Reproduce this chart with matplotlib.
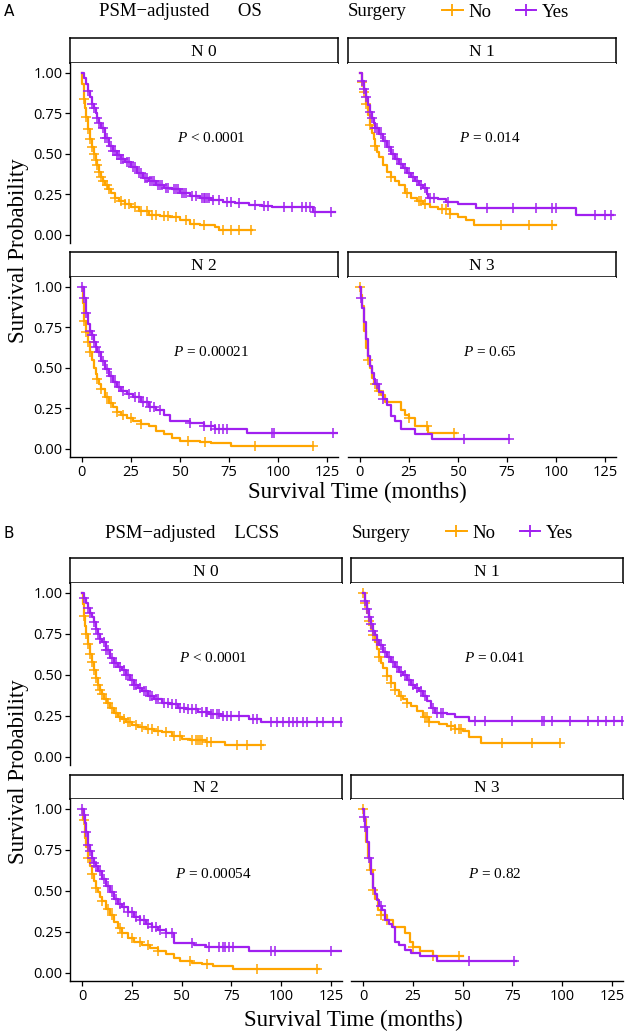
import numpy as np
import matplotlib
matplotlib.use("Agg")
import matplotlib.pyplot as plt
from matplotlib.lines import Line2D

plt.rcParams['mathtext.fontset'] = 'custom'
plt.rcParams['mathtext.it'] = 'Liberation Serif:italic'
plt.rcParams['mathtext.rm'] = 'Liberation Serif'

# ------------------------------------------------------------------ data
groups = ["No", "Yes"]
strip_labels = ["N 0", "N 1", "N 2", "N 3"]
x_ticks = [0, 25, 50, 75, 100, 125]
y_ticks = [0.00, 0.25, 0.50, 0.75, 1.00]
os_pvals = ["< 0.0001", "= 0.014", "= 0.00021", "= 0.65"]
lcss_pvals = ["< 0.0001", "= 0.041", "= 0.00054", "= 0.82"]

# ---- Panel A (OS)
os_n0_no_t = [0, 0.3, 1, 1.5, 2, 3, 4, 5, 6, 7, 8, 9, 10, 11, 12, 13.5, 15, 17, 19, 22, 25, 29, 34, 40, 45, 50, 55, 60, 68, 70, 86.5]
os_n0_no_s = [1.0, 0.93, 0.84, 0.78, 0.73, 0.65, 0.59, 0.54, 0.50, 0.46, 0.43, 0.39, 0.36, 0.33, 0.31, 0.28, 0.26, 0.23, 0.21, 0.19, 0.17, 0.15, 0.12, 0.115, 0.11, 0.09, 0.07, 0.06, 0.05, 0.03, 0.03]
os_n0_no_c = [1, 2, 3, 4, 5, 6, 7, 8, 9, 10, 11, 13, 14, 17, 20, 22, 24, 27, 30, 33, 36, 38, 42, 44, 48, 53, 57, 62, 72, 76, 80, 86]
os_n0_yes_t = [0, 1, 2, 3, 4, 5, 6, 7, 8, 9, 10, 12, 14, 16, 18, 20, 22, 25, 28, 31, 34, 38, 42, 46, 50, 55, 60, 66, 72, 78, 85, 92, 97, 118, 129]
os_n0_yes_s = [1.0, 0.97, 0.93, 0.89, 0.85, 0.81, 0.78, 0.75, 0.72, 0.69, 0.66, 0.60, 0.55, 0.52, 0.49, 0.47, 0.45, 0.42, 0.38, 0.35, 0.33, 0.31, 0.29, 0.28, 0.26, 0.24, 0.23, 0.215, 0.20, 0.195, 0.185, 0.18, 0.17, 0.14, 0.14]
os_n0_yes_c = [3, 5, 6, 8, 9, 11, 12, 13, 15, 16, 17, 18, 19, 20, 21, 23, 24, 26, 27, 29, 30, 32, 33, 35, 36, 37, 39, 40, 41, 43, 44, 47, 48, 49, 51, 52, 53, 56, 58, 61, 62, 63, 64, 65, 67, 70, 74, 76, 80, 88, 93, 95, 103, 107, 112, 114, 116, 119, 127]

os_n1_no_t = [0, 1, 2, 3, 4, 5, 6, 7, 8, 9, 10, 12, 14, 16, 18, 20, 23, 26, 29, 32, 36, 40, 46, 50, 54, 58, 100]
os_n1_no_s = [1.0, 0.94, 0.88, 0.81, 0.74, 0.68, 0.63, 0.59, 0.55, 0.51, 0.48, 0.43, 0.39, 0.36, 0.33, 0.31, 0.26, 0.23, 0.21, 0.19, 0.17, 0.16, 0.13, 0.11, 0.09, 0.06, 0.06]
os_n1_no_c = [1, 2, 3, 5, 8, 16, 24, 30, 31, 33, 42, 44, 46, 72, 86, 98]
os_n1_yes_t = [0, 1, 2, 3, 4, 5, 6, 7, 8, 10, 12, 14, 16, 18, 20, 22, 24, 26, 28, 30, 32, 34, 35, 40, 44, 50, 59, 110, 129]
os_n1_yes_s = [1.0, 0.95, 0.90, 0.85, 0.80, 0.76, 0.72, 0.69, 0.66, 0.62, 0.58, 0.54, 0.50, 0.47, 0.44, 0.41, 0.38, 0.36, 0.33, 0.31, 0.29, 0.25, 0.23, 0.22, 0.20, 0.19, 0.165, 0.12, 0.12]
os_n1_yes_c = [1, 2, 3, 5, 6, 8, 9, 11, 13, 15, 17, 19, 21, 23, 25, 27, 29, 31, 33, 36, 38, 45, 65, 78, 90, 98, 100, 120, 125, 128]

os_n2_no_t = [0, 0.5, 1, 2, 3, 4, 5, 6, 7, 8, 9, 10, 12, 14, 16, 18, 20, 23, 26, 30, 34, 38, 42, 46, 50, 60, 66, 76, 118]
os_n2_no_s = [1.0, 0.90, 0.79, 0.72, 0.66, 0.60, 0.55, 0.50, 0.46, 0.43, 0.40, 0.37, 0.32, 0.285, 0.26, 0.23, 0.21, 0.19, 0.17, 0.155, 0.14, 0.11, 0.09, 0.07, 0.05, 0.045, 0.035, 0.02, 0.02]
os_n2_no_c = [1, 2, 3, 4, 8, 10, 13, 15, 18, 21, 25, 30, 54, 63, 88, 118]
os_n2_yes_t = [0, 1, 2, 3, 4, 5, 6, 7, 8, 10, 12, 14, 16, 18, 20, 23, 26, 30, 34, 38, 42, 45, 55, 62, 68, 84, 130]
os_n2_yes_s = [1.0, 0.93, 0.84, 0.77, 0.73, 0.70, 0.66, 0.63, 0.60, 0.54, 0.49, 0.45, 0.41, 0.38, 0.36, 0.34, 0.32, 0.29, 0.26, 0.24, 0.21, 0.17, 0.16, 0.14, 0.12, 0.10, 0.10]
os_n2_yes_c = [0, 1, 2, 4, 5, 6, 7, 9, 11, 13, 15, 17, 19, 21, 24, 27, 29, 31, 33, 35, 37, 40, 55, 62, 66, 68, 70, 72, 74, 97, 98, 128]

os_n3_no_t = [0, 0.5, 1, 2, 3, 4, 5, 6, 7, 9, 11, 13, 21, 23, 25, 28, 35, 49]
os_n3_no_s = [1.0, 0.95, 0.88, 0.73, 0.62, 0.55, 0.50, 0.44, 0.40, 0.36, 0.33, 0.29, 0.24, 0.21, 0.19, 0.14, 0.10, 0.10]
os_n3_no_c = [0, 4, 8, 10, 25, 34, 48]
os_n3_yes_t = [0, 0.5, 1, 2, 3, 4, 5, 6, 7, 8, 10, 12, 14, 16, 18, 21, 28, 37, 76]
os_n3_yes_s = [1.0, 0.93, 0.87, 0.78, 0.68, 0.57, 0.51, 0.47, 0.43, 0.40, 0.35, 0.31, 0.27, 0.20, 0.17, 0.12, 0.09, 0.06, 0.06]
os_n3_yes_c = [0.5, 9, 12, 53, 76]

# ---- Panel B (LCSS)
lc_n0_no_t = [0, 0.3, 1, 1.5, 2, 3, 4, 5, 6, 7, 8, 9, 10, 11, 12.5, 14, 16, 18, 20, 22, 25, 28, 32, 36, 40, 45, 50, 54, 62, 72, 91]
lc_n0_no_s = [1.0, 0.93, 0.86, 0.80, 0.75, 0.69, 0.63, 0.58, 0.53, 0.48, 0.44, 0.41, 0.38, 0.35, 0.33, 0.30, 0.27, 0.245, 0.23, 0.21, 0.195, 0.18, 0.17, 0.16, 0.15, 0.125, 0.11, 0.10, 0.09, 0.07, 0.07]
lc_n0_no_c = [1, 2, 3, 4, 5, 6, 7, 8, 9, 10, 12, 13, 15, 17, 19, 21, 23, 24, 27, 30, 33, 35, 38, 42, 46, 49, 55, 57, 58, 59, 60, 63, 65, 78, 83, 90]
lc_n0_yes_t = [0, 1, 2, 3, 4, 5, 6, 7, 8, 9, 10, 12, 14, 16, 18, 20, 22, 24, 26, 28, 30, 33, 36, 40, 44, 48, 52, 58, 64, 70, 84, 90, 130]
lc_n0_yes_s = [1.0, 0.97, 0.94, 0.91, 0.88, 0.85, 0.82, 0.78, 0.75, 0.72, 0.70, 0.65, 0.60, 0.57, 0.55, 0.53, 0.50, 0.47, 0.44, 0.42, 0.40, 0.37, 0.35, 0.33, 0.32, 0.30, 0.29, 0.275, 0.26, 0.25, 0.23, 0.215, 0.215]
lc_n0_yes_c = [1, 3, 4, 6, 7, 8, 9, 11, 12, 13, 15, 16, 17, 19, 21, 22, 23, 25, 26, 27, 29, 31, 32, 34, 35, 37, 38, 41, 43, 45, 47, 49, 51, 53, 55, 57, 60, 62, 63, 65, 66, 68, 69, 71, 73, 75, 79, 86, 88, 95, 98, 101, 104, 106, 108, 111, 113, 118, 121, 126, 130]

lc_n1_no_t = [0, 1, 2, 3, 4, 5, 6, 7, 8, 9, 10, 12, 14, 16, 18, 20, 22, 24, 27, 30, 33, 38, 42, 46, 50, 53, 59, 99]
lc_n1_no_s = [1.0, 0.94, 0.88, 0.83, 0.78, 0.74, 0.70, 0.66, 0.61, 0.57, 0.54, 0.49, 0.45, 0.41, 0.37, 0.35, 0.33, 0.31, 0.28, 0.245, 0.215, 0.20, 0.185, 0.17, 0.155, 0.12, 0.085, 0.085]
lc_n1_no_c = [0, 1, 3, 5, 8, 12, 14, 16, 19, 22, 31, 32, 33, 44, 46, 48, 49, 70, 85, 99]
lc_n1_yes_t = [0, 1, 2, 3, 4, 5, 6, 7, 8, 10, 12, 14, 16, 18, 20, 22, 24, 26, 28, 30, 32, 34, 36, 42, 46, 53, 130]
lc_n1_yes_s = [1.0, 0.95, 0.90, 0.85, 0.81, 0.77, 0.74, 0.71, 0.68, 0.64, 0.61, 0.58, 0.55, 0.52, 0.50, 0.47, 0.44, 0.42, 0.40, 0.37, 0.34, 0.30, 0.27, 0.26, 0.24, 0.22, 0.22]
lc_n1_yes_c = [1, 2, 3, 4, 5, 7, 9, 11, 13, 15, 17, 19, 21, 23, 25, 27, 29, 31, 35, 37, 39, 40, 56, 61, 75, 90, 91, 95, 104, 113, 118, 122, 126, 130]

lc_n2_no_t = [0, 0.5, 1.5, 2, 3, 4, 5, 6, 7, 8, 9, 10, 12, 14, 16, 18, 20, 23, 26, 30, 34, 38, 42, 46, 49, 55, 60, 66, 76, 119]
lc_n2_no_s = [1.0, 0.93, 0.82, 0.77, 0.70, 0.65, 0.60, 0.56, 0.52, 0.49, 0.46, 0.44, 0.39, 0.35, 0.31, 0.275, 0.24, 0.21, 0.19, 0.17, 0.15, 0.13, 0.115, 0.09, 0.07, 0.06, 0.055, 0.04, 0.025, 0.025]
lc_n2_no_c = [1, 3, 5, 7, 10, 13, 15, 19, 20, 25, 29, 33, 38, 54, 63, 88, 118]
lc_n2_yes_t = [0, 1, 1.5, 2, 3, 4, 5, 6, 7, 8, 10, 12, 14, 16, 18, 20, 23, 26, 29, 32, 35, 38, 42, 46, 56, 62, 84, 130]
lc_n2_yes_s = [1.0, 0.96, 0.915, 0.86, 0.78, 0.74, 0.70, 0.67, 0.65, 0.62, 0.57, 0.53, 0.49, 0.45, 0.42, 0.40, 0.37, 0.34, 0.32, 0.30, 0.28, 0.26, 0.24, 0.18, 0.17, 0.16, 0.13, 0.13]
lc_n2_yes_c = [0, 1, 2, 3, 4, 5, 6, 7, 9, 11, 13, 15, 17, 19, 21, 23, 25, 27, 29, 31, 33, 35, 37, 39, 42, 45, 55, 64, 69, 71, 72, 74, 76, 95, 97, 125]

lc_n3_no_t = [0, 0.5, 1.5, 2.5, 3.5, 5, 6, 7.5, 9, 12, 15, 21, 23.5, 25, 28.5, 35, 50]
lc_n3_no_s = [1.0, 0.94, 0.80, 0.70, 0.63, 0.505, 0.45, 0.385, 0.35, 0.32, 0.28, 0.24, 0.19, 0.16, 0.13, 0.10, 0.10]
lc_n3_no_c = [0, 4, 5, 9, 12, 25, 35, 48]
lc_n3_yes_t = [0, 0.5, 1, 2, 3, 4, 5, 6, 7, 8, 9.5, 11, 13, 14.5, 16, 18, 21, 24, 28.5, 37, 77]
lc_n3_yes_s = [1.0, 0.95, 0.89, 0.80, 0.70, 0.60, 0.52, 0.48, 0.445, 0.41, 0.385, 0.32, 0.30, 0.28, 0.19, 0.17, 0.14, 0.12, 0.10, 0.07, 0.07]
lc_n3_yes_c = [0.5, 1, 3, 9, 53, 76]

# ------------------------------------------------------------------ style
COL = {"No": "#FFA500", "Yes": "#A020F0"}
SERIF = "Liberation Serif"
SANS = "Open Sans"
W, H = 628, 1036
XLIM = (-6, 130.5)
YLIM = (-0.05, 1.06)

fig = plt.figure(figsize=(W / 100, H / 100), dpi=100)


def add_ax(x0, y0, x1, y1):
    return fig.add_axes([x0 / W, 1 - y1 / H, (x1 - x0) / W, (y1 - y0) / H])


def ftext(x, y, s, **kw):
    return fig.text(x / W, 1 - y / H, s, **kw)


def surv_at(t, s, tc):
    t = np.asarray(t, float)
    s = np.asarray(s, float)
    idx = np.searchsorted(t, np.asarray(tc, float), side="right") - 1
    idx = np.clip(idx, 0, len(s) - 1)
    return s[idx]


def draw_panel(box, label, curves, pval, left, bottom):
    x0, x1, ys0, ys1, y1 = box
    sax = add_ax(x0, ys0, x1, ys1)
    sax.set_xticks([]); sax.set_yticks([])
    for sp in sax.spines.values():
        sp.set_linewidth(1.1)
    sax.text(0.5, 0.45, label, ha="center", va="center", fontsize=12.5,
             family=SERIF, transform=sax.transAxes)
    ax = add_ax(x0, ys1, x1, y1)
    for g in groups:
        t, s, c = curves[g]
        ax.step(t, s, where="post", color=COL[g], lw=1.6)
        ax.plot(c, surv_at(t, s, c), ls="none", marker="+", ms=7.5, mew=1.1, color=COL[g])
    ax.set_xlim(*XLIM)
    ax.set_ylim(*YLIM)
    ax.text(66, 0.60, r"$P$ " + pval, ha="center", va="center", fontsize=11, family=SERIF)
    ax.spines["top"].set_visible(False)
    ax.spines["right"].set_visible(False)
    ax.spines["left"].set_linewidth(1.0)
    ax.spines["bottom"].set_linewidth(1.0)
    ax.tick_params(length=3.5, width=0.9, color="black", labelsize=10.5, pad=2)
    if left:
        ax.set_yticks(y_ticks)
        ax.set_yticklabels(["%.2f" % v for v in y_ticks], family=SANS)
    else:
        ax.spines["left"].set_visible(False)
        ax.set_yticks([])
    if bottom:
        ax.set_xticks(x_ticks)
        ax.set_xticklabels([str(v) for v in x_ticks], family=SANS)
    else:
        ax.spines["bottom"].set_visible(False)
        ax.set_xticks([])
    return ax


os_curves = [
    {"No": (os_n0_no_t, os_n0_no_s, os_n0_no_c), "Yes": (os_n0_yes_t, os_n0_yes_s, os_n0_yes_c)},
    {"No": (os_n1_no_t, os_n1_no_s, os_n1_no_c), "Yes": (os_n1_yes_t, os_n1_yes_s, os_n1_yes_c)},
    {"No": (os_n2_no_t, os_n2_no_s, os_n2_no_c), "Yes": (os_n2_yes_t, os_n2_yes_s, os_n2_yes_c)},
    {"No": (os_n3_no_t, os_n3_no_s, os_n3_no_c), "Yes": (os_n3_yes_t, os_n3_yes_s, os_n3_yes_c)},
]
lc_curves = [
    {"No": (lc_n0_no_t, lc_n0_no_s, lc_n0_no_c), "Yes": (lc_n0_yes_t, lc_n0_yes_s, lc_n0_yes_c)},
    {"No": (lc_n1_no_t, lc_n1_no_s, lc_n1_no_c), "Yes": (lc_n1_yes_t, lc_n1_yes_s, lc_n1_yes_c)},
    {"No": (lc_n2_no_t, lc_n2_no_s, lc_n2_no_c), "Yes": (lc_n2_yes_t, lc_n2_yes_s, lc_n2_yes_c)},
    {"No": (lc_n3_no_t, lc_n3_no_s, lc_n3_no_c), "Yes": (lc_n3_yes_t, lc_n3_yes_s, lc_n3_yes_c)},
]

# layout in pixels: (x0, x1, strip_top, strip_bottom/panel_top, panel_bottom)
A_boxes = [(70, 338, 38, 63, 243), (348, 616, 38, 63, 243),
           (70, 338, 252, 277, 457), (348, 616, 252, 277, 457)]
B_boxes = [(70, 342, 558, 583, 765), (351, 623, 558, 583, 765),
           (70, 342, 775, 799, 981), (351, 623, 775, 799, 981)]
flags = [(True, False), (False, False), (True, True), (False, True)]

for i in range(4):
    draw_panel(A_boxes[i], strip_labels[i], os_curves[i], os_pvals[i], *flags[i])
    draw_panel(B_boxes[i], strip_labels[i], lc_curves[i], lcss_pvals[i], *flags[i])


def header(y, letter, title, lx):
    ftext(9, y, letter, fontsize=11, family="DejaVu Sans", ha="center", va="center")
    ftext(lx, y, title, fontsize=13.5, family=SERIF, ha="center", va="center")


def legend(y, x_surg, x_leg):
    ftext(x_surg, y, "Surgery", fontsize=13.5, family=SERIF, ha="left", va="center")
    handles = [Line2D([], [], color=COL[g], lw=1.4, marker="+", ms=9, mew=1.3) for g in groups]
    fig.legend(handles, groups, loc="center left", bbox_to_anchor=(x_leg / W, 1 - y / H),
               ncol=2, frameon=False, prop={"family": SERIF, "size": 13.5},
               handlelength=1.1, handletextpad=0.3, columnspacing=1.3,
               borderpad=0, borderaxespad=0)


header(12, "A", "PSM\u2212adjusted      OS", 180)
legend(12, 348, 442)
header(533, "B", "PSM\u2212adjusted    LCSS", 192)
legend(533, 352, 446)

# axis titles
ftext(357, 492, "Survival Time (months)", fontsize=16.5, family=SERIF, ha="center", va="center")
ftext(353, 1020, "Survival Time (months)", fontsize=16.5, family=SERIF, ha="center", va="center")
ftext(19, 251, "Survival Probability", fontsize=16.5, family=SERIF, ha="center", va="center", rotation=90)
ftext(19, 772, "Survival Probability", fontsize=16.5, family=SERIF, ha="center", va="center", rotation=90)

fig.savefig("out.png", dpi=100)
